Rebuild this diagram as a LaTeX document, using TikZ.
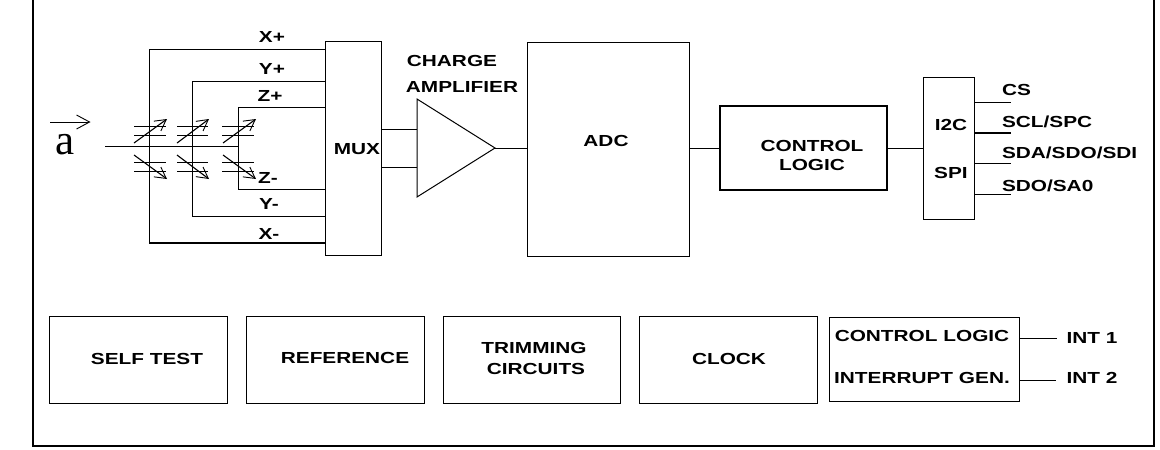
\documentclass[tikz,border=0pt]{standalone}
\usepackage{fontspec}
\setmainfont{Liberation Sans}[FakeStretch=1.3]
\newfontfamily\serifa{Liberation Serif}
\usetikzlibrary{arrows.meta}
\tikzset{
  wire/.style={line width=1pt,black},
  thickwire/.style={line width=2pt,black},
  plate/.style={line width=0.9pt,black},
  varrow/.style={line width=1.1pt,black,-{Straight Barb[length=11pt,width=12pt,line width=0.9pt]}},
  box/.style={draw=black,line width=1pt,fill=white,rectangle,inner sep=0pt,outer sep=0pt},
  lab/.style={inner sep=0pt,outer sep=0pt,anchor=center,font=\fontsize{16}{16}\selectfont\bfseries,text=black},
}
\begin{document}
\begin{tikzpicture}[x=1pt,y=-1pt]
\useasboundingbox (0,0) rectangle (1160,450);
\fill[white] (0,0) rectangle (1160,450);
% outer frame
\coordinate (ftl) at (33,0); \coordinate (fbl) at (33,446);
\coordinate (fbr) at (1154,446); \coordinate (ftr) at (1154,0);
\draw[line width=2pt,line join=miter] (ftl) -- (fbl) -- (fbr) -- (ftr);
% boxes
\node[box,minimum width=56pt,minimum height=214pt] (mux) at (353,148) {};
\node[box,minimum width=162pt,minimum height=214pt] (adc) at (608,149) {};
\node[box,line width=1.4pt,minimum width=167pt,minimum height=84pt] (ctl) at (803.5,148) {};
\node[box,minimum width=51pt,minimum height=142pt] (bus) at (948.5,148) {};
\node[box,minimum width=178pt,minimum height=87pt] (st) at (138,359.5) {};
\node[box,minimum width=178pt,minimum height=87pt] (ref) at (335,359.5) {};
\node[box,minimum width=177pt,minimum height=87pt] (trim) at (531.5,359.5) {};
\node[box,minimum width=178pt,minimum height=87pt] (clk) at (728,359.5) {};
\node[box,minimum width=190pt,minimum height=84pt] (irq) at (924,359) {};
% amplifier
\coordinate (ta) at (417,99); \coordinate (tb) at (417,197); \coordinate (tc) at (495,148);
\draw[wire,line join=miter] (ta) -- (tc) -- (tb) -- cycle;
\coordinate (tin1) at (417,129); \coordinate (tin2) at (417,167);
\draw[wire] (mux.east |- tin1) -- (tin1);
\draw[wire] (mux.east |- tin2) -- (tin2);
\draw[wire] (tc) -- (adc.west |- tc);
\draw[wire] (adc.east |- ctl.west) -- (ctl.west);
\draw[wire] (ctl.east) -- (bus.west);
% sensor wires
\coordinate (xc) at (149,146); \coordinate (yc) at (192,146); \coordinate (zc) at (238,146);
\coordinate (in) at (105,146);
\draw[wire] (in) -- (zc);
\coordinate (xp) at (149,49); \coordinate (yp) at (192,81); \coordinate (zp) at (238,107);
\coordinate (zm) at (238,189); \coordinate (ym) at (192,216); \coordinate (xm) at (149,243);
\draw[wire] (mux.west |- xp) -- (xp) -- (xm);
\draw[thickwire] (xm) -- (mux.west |- xm);
\draw[wire] (mux.west |- yp) -- (yp) -- (ym) -- (mux.west |- ym);
\draw[wire] (mux.west |- zp) -- (zp) -- (zm) -- (mux.west |- zm);
% capacitors
\foreach \n/\a/\b in {x/134/166,y/177/208,z/222/254}{
  \foreach \py in {126,135,162,171}{
    \draw[plate] (\a,\py) -- (\b,\py);
  }
}
\foreach \n/\a/\b in {x/134/167,y/177/209,z/223/256}{
  \coordinate (\n us) at (\a,143); \coordinate (\n ue) at (\b,119);
  \coordinate (\n ds) at (\a,155); \coordinate (\n de) at (\b,179);
  \draw[varrow] (\n us) -- (\n ue);
  \draw[varrow] (\n ds) -- (\n de);
}
% acceleration symbol
\coordinate (as) at (50,122); \coordinate (ae) at (90.5,122);
\draw[line width=1pt,-{Straight Barb[length=13pt,width=14pt,line width=0.9pt]}] (as) -- (ae);
\node[inner sep=0pt,anchor=center,font=\fontsize{43}{43}\selectfont\serifa] (asym) at (65,145) {a};
% bus pins
\coordinate (p1) at (1011,102); \coordinate (p2) at (1011,133);
\coordinate (p3) at (1011,163); \coordinate (p4) at (1011,194);
\draw[wire] (bus.east |- p1) -- (p1);
\draw[thickwire] (bus.east |- p2) -- (p2);
\draw[wire] (bus.east |- p3) -- (p3);
\draw[wire] (bus.east |- p4) -- (p4);
% interrupts
\coordinate (i1) at (1057,338); \coordinate (i2) at (1056,380);
\draw[wire] (irq.east |- i1) -- (i1);
\draw[wire] (irq.east |- i2) -- (i2);
% labels
\node[lab] (lxp) at (272,37) {X+};
\node[lab] (lyp) at (272,69) {Y+};
\node[lab] (lzp) at (270,96) {Z+};
\node[lab] (lzm) at (268,178) {Z-};
\node[lab] (lym) at (269,204) {Y-};
\node[lab] (lxm) at (269,234) {X-};
\node[lab] (lmux) at (357,149) {MUX};
\node[lab] (lch) at (452,61) {CHARGE};
\node[lab] (lam) at (462,87) {AMPLIFIER};
\node[lab] (ladc) at (606,141) {ADC};
\node[lab] (lc1) at (812,146) {CONTROL};
\node[lab] (lc2) at (812,165) {LOGIC};
\node[lab] (li2c) at (951,125) {I2C};
\node[lab] (lspi) at (951,173) {SPI};
\node[lab,anchor=west] (lcs) at (1002,90) {CS};
\node[lab,anchor=west] (lscl) at (1002,122) {SCL/SPC};
\node[lab,anchor=west] (lsda) at (1002,153) {SDA/SDO/SDI};
\node[lab,anchor=west] (lsdo) at (1002,186) {SDO/SA0};
\node[lab] (lst) at (147,359) {SELF TEST};
\node[lab] (lref) at (345,358) {REFERENCE};
\node[lab] (ltr) at (534,348) {TRIMMING};
\node[lab] (lcir) at (536,369) {CIRCUITS};
\node[lab] (lclk) at (729,359) {CLOCK};
\node[lab] (lcl) at (922,336) {CONTROL LOGIC};
\node[lab] (lint) at (922,378) {INTERRUPT GEN.};
\node[lab] (li1) at (1092,338) {INT 1};
\node[lab] (li2) at (1092,378) {INT 2};
\end{tikzpicture}
\end{document}
